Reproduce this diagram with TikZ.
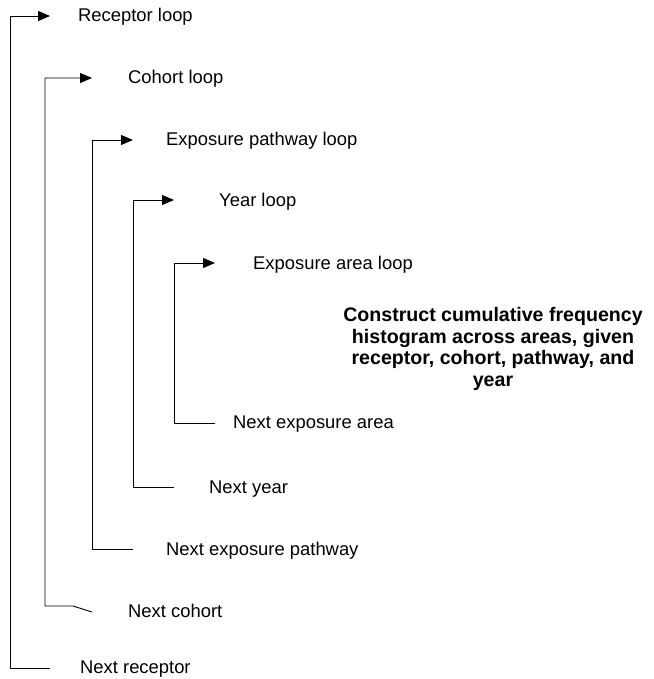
\documentclass[tikz,border=0pt]{standalone}
\usepackage{fontspec}
\setmainfont{Liberation Sans}
\usetikzlibrary{arrows.meta}

\begin{document}
\begin{tikzpicture}[x=1pt, y=-1pt,
  lbl/.style={anchor=base west, inner sep=0pt, font=\fontsize{18.4}{22}\selectfont},
  task/.style={align=center, inner sep=0pt, font=\bfseries\fontsize{19.6}{21.7}\selectfont},
  wire/.style={line width=0.9pt},
  loopin/.style={wire, -{Triangle[length=12pt,width=10pt]}},
]
  \useasboundingbox (0,0) rectangle (653,679);

  % loop heads
  \node[lbl] (rl) at (78,22) {Receptor loop};
  \node[lbl] (cl) at (128,84) {Cohort loop};
  \node[lbl] (pl) at (166,145.5) {Exposure pathway loop};
  \node[lbl] (yl) at (219,206.5) {Year loop};
  \node[lbl] (al) at (253,269) {Exposure area loop};

  % loop tails
  \node[lbl] (na) at (233,428) {Next exposure area};
  \node[lbl] (ny) at (209,493) {Next year};
  \node[lbl] (np) at (166,555) {Next exposure pathway};
  \node[lbl] (nc) at (128,617) {Next cohort};
  \node[lbl] (nr) at (80,673) {Next receptor};

  \node[task] (hist) at (493,349) {Construct cumulative frequency\\histogram across areas, given\\receptor, cohort, pathway, and\\year};

  % back edges
  \draw[loopin] ([shift={(-30,-5)}]nr.base west) -- ++(-40,0) |- ([shift={(-28,-6)}]rl.base west);
  \draw[loopin] ([shift={(-36,-5)}]nc.base west) -- ++(-19,-6) -- ++(-28,0) |- ([shift={(-36,-6)}]cl.base west);
  \draw[loopin] ([shift={(-33,-6)}]np.base west) -- ++(-41,0) |- ([shift={(-33,-5.5)}]pl.base west);
  \draw[loopin] ([shift={(-35,-6)}]ny.base west) -- ++(-41,0) |- ([shift={(-45,-6.5)}]yl.base west);
  \draw[loopin] ([shift={(-18,-5)}]na.base west) -- ++(-41,0) |- ([shift={(-38,-6)}]al.base west);
\end{tikzpicture}
\end{document}
